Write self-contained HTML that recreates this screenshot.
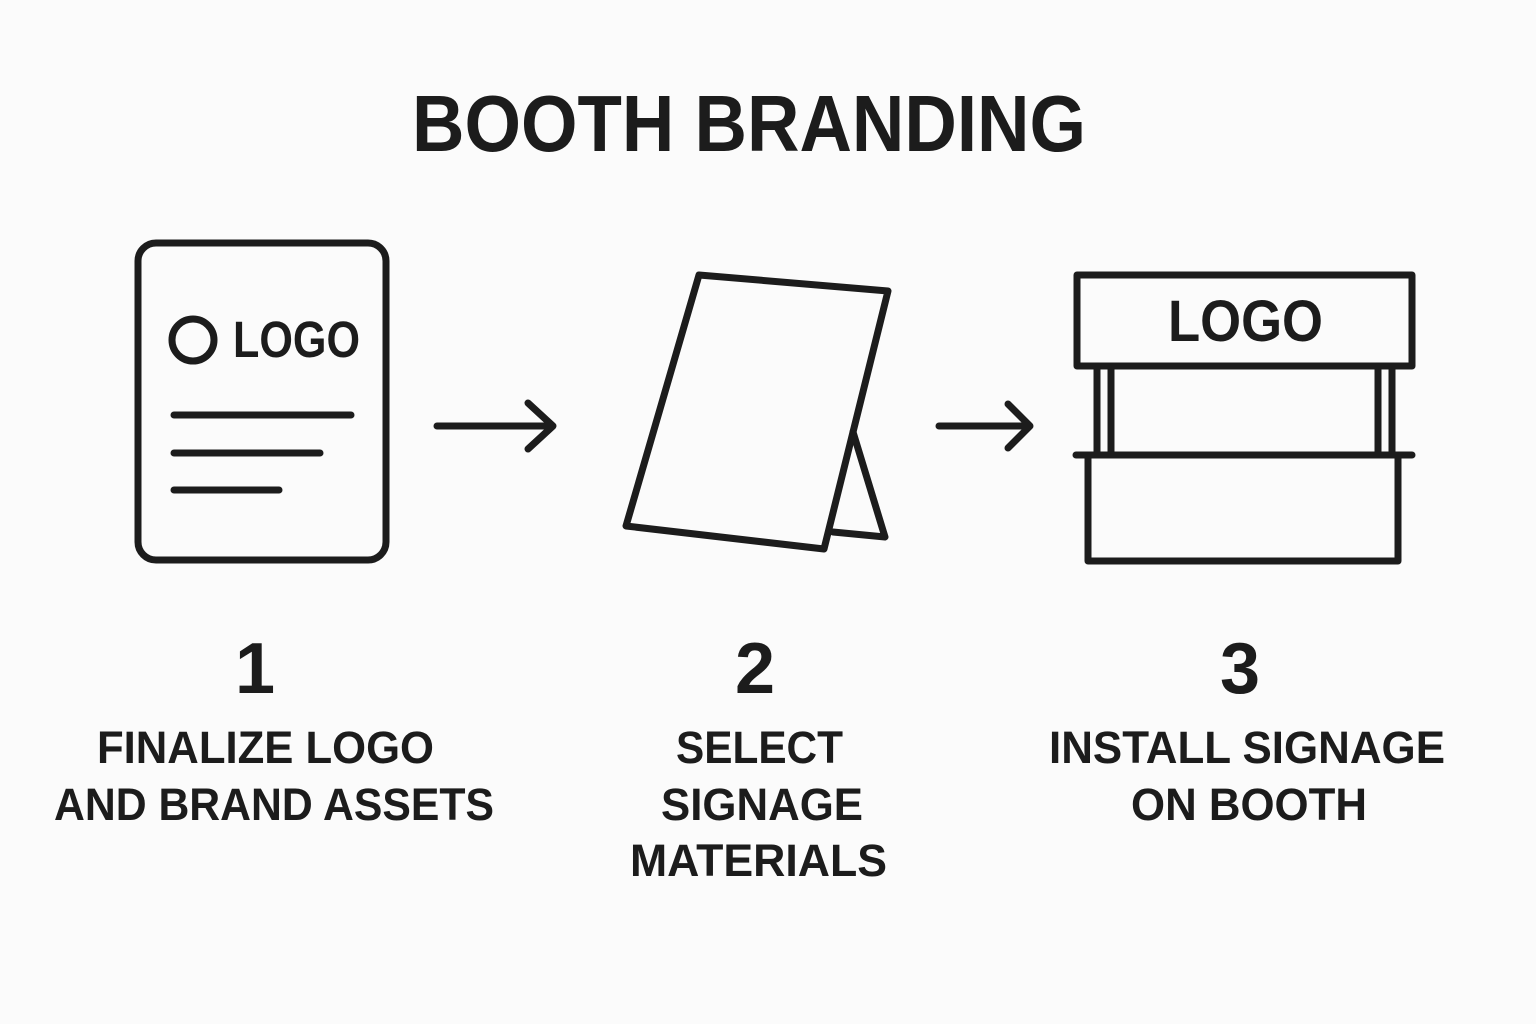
<!DOCTYPE html>
<html><head><meta charset="utf-8"><style>
html,body{margin:0;padding:0;background:#fbfbfb;}
svg{display:block}
text{font-family:"Liberation Sans",sans-serif;font-weight:bold;fill:#1c1c1c}
</style></head><body>
<svg width="1536" height="1024" viewBox="0 0 1536 1024" xmlns="http://www.w3.org/2000/svg">
<g fill="none" stroke="#1c1c1c" stroke-width="7" stroke-linecap="round" stroke-linejoin="round">
  <!-- document -->
  <rect x="138" y="243" width="248" height="317" rx="18"/>
  <circle cx="193" cy="340" r="21"/>
  <line x1="174" y1="415" x2="351" y2="415"/>
  <line x1="174" y1="453" x2="320" y2="453"/>
  <line x1="174" y1="490" x2="279" y2="490"/>
  <!-- arrows -->
  <line x1="437" y1="426" x2="552" y2="426"/>
  <polyline points="528,403 553,426 528,449"/>
  <line x1="939" y1="426" x2="1029" y2="426"/>
  <polyline points="1008,404 1030,426 1008,448"/>
  <!-- sign -->
  <polygon points="699,275 888,291 824,549 626,526"/>
  <polyline points="853,432 885,537 833,532"/>
  <!-- booth -->
  <rect x="1077" y="275" width="335" height="91"/>
  <line x1="1097" y1="366" x2="1097" y2="455"/>
  <line x1="1111" y1="366" x2="1111" y2="455"/>
  <line x1="1378" y1="366" x2="1378" y2="455"/>
  <line x1="1392" y1="366" x2="1392" y2="455"/>
  <line x1="1076" y1="455" x2="1412" y2="455"/>
  <rect x="1088" y="455" width="310" height="106"/>
</g>
<text x="412" y="151" font-size="80" textLength="674" lengthAdjust="spacingAndGlyphs">BOOTH BRANDING</text>
<text x="233" y="357" font-size="51" textLength="127" lengthAdjust="spacingAndGlyphs">LOGO</text>
<text x="1168" y="341" font-size="58" textLength="155" lengthAdjust="spacingAndGlyphs">LOGO</text>
<g font-size="72" text-anchor="middle">
  <text x="255" y="693">1</text>
  <text x="755" y="693">2</text>
  <text x="1240" y="693">3</text>
</g>
<g font-size="45" lengthAdjust="spacingAndGlyphs">
  <text x="97" y="763" textLength="337" lengthAdjust="spacingAndGlyphs">FINALIZE LOGO</text>
  <text x="54" y="820" textLength="440" lengthAdjust="spacingAndGlyphs">AND BRAND ASSETS</text>
  <text x="676" y="763" textLength="167" lengthAdjust="spacingAndGlyphs">SELECT</text>
  <text x="661" y="820" textLength="202" lengthAdjust="spacingAndGlyphs">SIGNAGE</text>
  <text x="630" y="876" textLength="257" lengthAdjust="spacingAndGlyphs">MATERIALS</text>
  <text x="1049" y="763" textLength="396" lengthAdjust="spacingAndGlyphs">INSTALL SIGNAGE</text>
  <text x="1131" y="820" textLength="236" lengthAdjust="spacingAndGlyphs">ON BOOTH</text>
</g>
</svg>
</body></html>
